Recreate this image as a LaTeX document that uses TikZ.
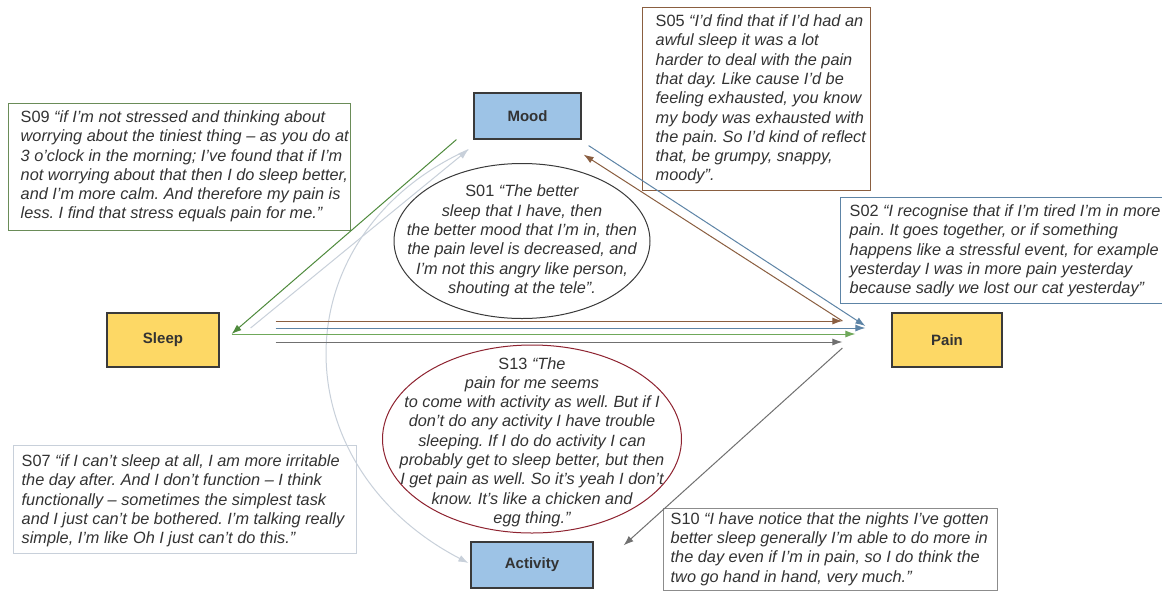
\documentclass[tikz,border=0pt]{standalone}
\usepackage{fontspec}
\setmainfont{Liberation Sans}
\usetikzlibrary{arrows.meta,shapes.geometric,calc}
\frenchspacing

\definecolor{txt}{HTML}{333333}
\definecolor{moodblue}{HTML}{9DC3E6}
\definecolor{sleepyellow}{HTML}{FDD865}
\definecolor{boxedge}{HTML}{3A3A3A}
\definecolor{cgreen}{HTML}{4E8A3C}
\definecolor{cgreenlt}{HTML}{6FA85A}
\definecolor{cgreenbox}{HTML}{6A8C58}
\definecolor{cbrown}{HTML}{8A5E40}
\definecolor{cblue}{HTML}{5D84A6}
\definecolor{cgray}{HTML}{707070}
\definecolor{cgraybox}{HTML}{8C8C8C}
\definecolor{clight}{HTML}{C8D0DA}
\definecolor{cred}{HTML}{8E2330}

\begin{document}
\frenchspacing
\begin{tikzpicture}[x=1pt,y=-1pt,
  every node/.style={text=txt},
  cat/.style={draw=boxedge, line width=1.2pt, font=\fontsize{15}{18}\selectfont\bfseries, inner sep=0pt},
  qbox/.style={draw, line width=1pt, inner sep=0pt, fill=white},
  qtext/.style={font=\fontsize{16.3}{19.3}\selectfont\itshape\frenchspacing, align=left, inner sep=0pt, anchor=west},
  etext/.style={font=\fontsize{16.3}{19.3}\selectfont\itshape\frenchspacing, align=center, inner sep=0pt},
  ell/.style={ellipse, draw, line width=1pt, inner sep=0pt},
  arr/.style={line width=1pt, -{Latex[length=10pt,width=7pt]}},
]
\fill[white] (0,0) rectangle (1162,592);
\useasboundingbox (0,0) rectangle (1162,592);

% category boxes
\node[cat, fill=moodblue, minimum width=107pt, minimum height=46pt] (mood) at (527.5,116) {Mood};
\node[cat, fill=sleepyellow, minimum width=112pt, minimum height=54pt] (sleep) at (163,340) {Sleep};
\node[cat, fill=sleepyellow, minimum width=110pt, minimum height=54pt] (pain) at (947,340) {Pain};
\node[cat, fill=moodblue, minimum width=122pt, minimum height=46pt] (activity) at (532,565) {Activity};

% quote boxes
\node[qbox, draw=cgreenbox, minimum width=342pt, minimum height=127pt] (s09) at (179,166.5) {};
\node[qtext] (s09t) at ($(s09.west)+(13,0)$) {\textup{S09} “if I’m not stressed and thinking about\\worrying about the tiniest thing – as you do at\\3 o’clock in the morning; I’ve found that if I’m\\not worrying about that then I do sleep better,\\and I’m more calm. And therefore my pain is\\less. I find that stress equals pain for me.”};

\node[qbox, draw=cbrown, minimum width=228pt, minimum height=183pt] (s05) at (756,98.5) {};
\node[qtext] (s05t) at ($(s05.west)+(14,1)$) {\textup{S05} “I’d find that if I’d had an\\awful sleep it was a lot\\harder to deal with the pain\\that day. Like cause I’d be\\feeling exhausted, you know\\my body was exhausted with\\the pain. So I’d kind of reflect\\that, be grumpy, snappy,\\moody”.};

\node[qbox, draw=cblue, minimum width=330pt, minimum height=106pt] (s02) at (1005,250) {};
\node[qtext] (s02t) at ($(s02.west)+(10,1)$) {\textup{S02} “I recognise that if I’m tired I’m in more\\pain. It goes together, or if something\\happens like a stressful event, for example\\yesterday I was in more pain yesterday\\because sadly we lost our cat yesterday”};

\node[qbox, draw=clight, minimum width=343pt, minimum height=108pt] (s07) at (184.5,499) {};
\node[qtext] (s07t) at ($(s07.west)+(9,2)$) {\textup{S07} “if I can’t sleep at all, I am more irritable\\the day after. And I don’t function – I think\\functionally – sometimes the simplest task\\and I just can’t be bothered. I’m talking really\\simple, I’m like Oh I just can’t do this.”};

\node[qbox, draw=cgraybox, minimum width=334pt, minimum height=82pt] (s10) at (830,549) {};
\node[qtext] (s10t) at ($(s10.west)+(8,0)$) {\textup{S10} “I have notice that the nights I’ve gotten\\better sleep generally I’m able to do more in\\the day even if I’m in pain, so I do think the\\two go hand in hand, very much.”};

% ellipses
\node[ell, draw=boxedge, minimum width=256pt, minimum height=155pt] (s01) at (522,241) {};
\node[etext] (s01t) at (s01.center) {\textup{S01} “The better\\sleep that I have, then\\the better mood that I’m in, then\\the pain level is decreased, and\\I’m not this angry like person,\\shouting at the tele”.};

\node[ell, draw=cred, minimum width=299pt, minimum height=188pt] (s13) at (532,439) {};
\node[etext] (s13t) at ($(s13.center)+(0,3)$) {\textup{S13} “The\\pain for me seems\\to come with activity as well. But if I\\don’t do any activity I have trouble\\sleeping. If I do do activity I can\\probably get to sleep better, but then\\I get pain as well. So it’s yeah I don’t\\know. It’s like a chicken and\\egg thing.”};

% connector end points
\coordinate (sBr) at ($(sleep.east)+(56,-19)$);
\coordinate (sBl) at ($(sleep.east)+(56,-12)$);
\coordinate (sGr) at ($(sleep.east)+(12,-6)$);
\coordinate (sGy) at ($(sleep.east)+(56,2)$);
\coordinate (sLt) at ($(sleep.east)+(31,-12)$);
\coordinate (pBr) at ($(pain.west)+(-49,-19)$);
\coordinate (pBl) at ($(pain.west)+(-26,-12)$);
\coordinate (pBl2) at ($(pain.west)+(-26,-14)$);
\coordinate (pGr) at ($(pain.west)+(-36,-6)$);
\coordinate (pGy) at ($(pain.west)+(-49,2)$);
\coordinate (pGy2) at ($(pain.west)+(-49,8)$);
\coordinate (mGr) at ($(mood.south west)+(-17,0)$);
\coordinate (mLt) at ($(mood.south west)+(-5,10)$);
\coordinate (mBr) at ($(mood.south east)+(2,15)$);
\coordinate (mBl) at ($(mood.south east)+(7,6)$);
\coordinate (aLt) at ($(activity.west)+(-2,-2)$);
\coordinate (aGy) at ($(activity.north east)+(30,4)$);

% connectors
\draw[arr, clight] (sLt) -- (mLt);
\draw[arr, clight] (mLt) .. controls (280,235) and (280,465) .. (aLt);
\draw[arr, cbrown] (sBr) -- (pBr);
\draw[arr, cbrown] (pBr) -- (mBr);
\draw[arr, cblue] (sBl) -- (pBl);
\draw[arr, cblue] (mBl) -- (pBl2);
\draw[arr, cgreen] (mGr) -- (sGr);
\draw[arr, cgreenlt] (sGr) -- (pGr);
\draw[arr, cgray] (sGy) -- (pGy);
\draw[arr, cgray] (pGy2) -- (aGy);
\end{tikzpicture}
\end{document}
